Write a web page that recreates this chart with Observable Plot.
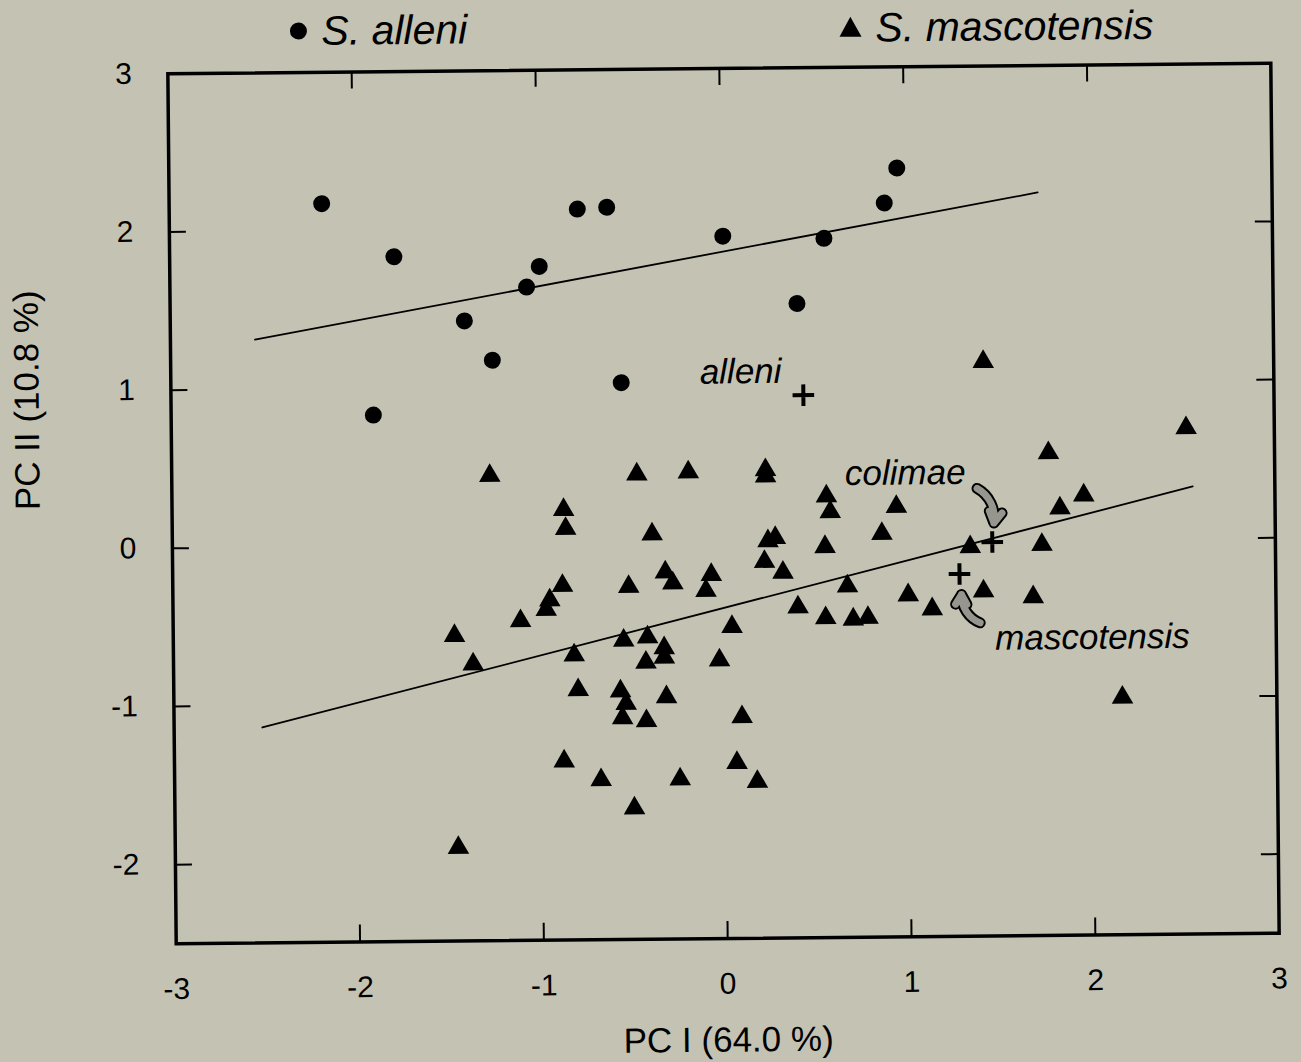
<!DOCTYPE html>
<html><head><meta charset="utf-8">
<script src="https://cdn.jsdelivr.net/npm/d3@7"></script>
<script src="https://cdn.jsdelivr.net/npm/@observablehq/plot@0.6"></script>
<style>
html,body{margin:0;padding:0;background:#c4c3b3;overflow:hidden}
#wrap{position:relative;width:1301px;height:1062px;transform:rotate(-0.55deg);transform-origin:723px 503px;font-family:"Liberation Sans",Arial,sans-serif}
#legend{position:relative;height:55px}
.lg{position:absolute;font-style:italic;font-size:41px;line-height:1;white-space:nowrap;color:#000}
.sym{position:absolute}
</style></head><body>
<div id="wrap"><div id="legend"></div><div id="chart"></div></div>
<script>
// ---- data ----
const xDomain = [-3, 3];
const yDomain = [-2.5, 3];
const xLabels = [-3, -2, -1, 0, 1, 2, 3];
const yLabels = [-2, -1, 0, 1, 2, 3];
const xTickVals = [-2, -1, 0, 1, 2];
const yTickVals = [-2, -1, 0, 1, 2];
const xTitle = "PC I (64.0 %)";
const yTitle = "PC II (10.8 %)";
const seriesNames = ["S. alleni", "S. mascotensis"];

const alleniX = [-2.17,-1.78,-1.90,-1.40,-1.25,-1.06,-0.99,-0.78,-0.62,-0.55,0.01,0.41,0.56,0.89,0.96];
const alleniY = [2.17,1.83,0.83,1.42,1.17,1.63,1.76,2.12,2.13,1.02,1.94,1.51,1.92,2.14,2.36];

const mascoX = [-1.27,-0.87,-0.86,-0.88,-0.95,-0.97,-1.11,-1.47,-1.37,-0.82,-0.80,-0.88,-1.46,-0.68,-0.47,-0.39,-0.52,-0.32,-0.28,-0.55,-0.42,-0.33,-0.33,-0.43,-0.57,-0.54,-0.56,-0.43,-0.32,-0.50,-0.25,-0.19,-0.10,-0.07,-0.03,0.04,0.09,0.06,0.17,0.23,0.23,0.22,0.24,0.28,0.32,0.40,0.56,0.58,0.55,0.55,0.67,0.70,0.78,0.86,0.94,1.00,1.13,1.34,1.42,1.41,1.68,1.73,1.77,1.83,1.96,2.16,2.52];
const mascoY = [0.44,0.22,0.10,-0.26,-0.35,-0.41,-0.48,-0.57,-0.75,-0.70,-0.92,-1.37,-1.91,-1.49,0.44,0.06,-0.27,-0.18,-0.25,-0.61,-0.59,-0.66,-0.72,-0.75,-0.93,-1.01,-1.10,-1.12,-0.97,-1.67,-1.49,0.45,-0.30,-0.20,-0.74,-0.53,-1.10,-1.39,-1.51,0.46,0.42,-0.12,0.01,0.03,-0.19,-0.41,0.29,0.19,-0.03,-0.48,-0.28,-0.49,-0.48,0.05,0.22,-0.34,-0.43,-0.04,1.13,-0.32,-0.36,-0.03,0.55,0.20,0.28,-1.00,0.70];

// group means (crosses)
const meanNames = ["alleni", "colimae", "mascotensis"];
const meanX = [0.44, 1.46, 1.28];
const meanY = [0.93, -0.01, -0.21];

// annotation labels
const labelText = ["alleni", "colimae", "mascotensis"];
const labelX = [0.10, 0.99, 2.00];
const labelY = [1.08, 0.43, -0.62];

// annotation arrows (tail -> head)
const arrowX1 = [1.38, 1.39];
const arrowY1 = [0.33, -0.52];
const arrowX2 = [1.47, 1.29];
const arrowY2 = [0.11, -0.34];

// regression lines (end points)
const upperLineX = [-2.54, 1.725];
const upperLineY = [1.315, 2.197];
const lowerLineX = [-2.52, 2.553];
const lowerLineY = [-1.138, 0.329];

// ---- build ----
const zip = (xs, ys) => xs.map((x, i) => ({x, y: ys[i]}));
const alleni = zip(alleniX, alleniY);
const masco = zip(mascoX, mascoY);
const means = zip(meanX, meanY);
const labels = labelText.map((t, i) => ({t, x: labelX[i], y: labelY[i]}));
const arrows = arrowX1.map((x1, i) => ({x1, y1: arrowY1[i], x2: arrowX2[i], y2: arrowY2[i]}));
const upper = zip(upperLineX, upperLineY);
const lower = zip(lowerLineX, lowerLineY);

// legend (HTML, above the chart)
const legend = document.getElementById("legend");
legend.innerHTML = `
<svg class="sym" style="left:293px;top:17px" width="20" height="20"><circle cx="10" cy="10" r="8.5" fill="#000"/></svg>
<div class="lg" style="left:326px;top:7px">${seriesNames[0]}</div>
<svg class="sym" style="left:843px;top:17px" width="24" height="24"><path d="M12,1 L23,21 L1,21 Z" fill="#000"/></svg>
<div class="lg" style="left:880px;top:9px">${seriesNames[1]}</div>`;

const W = 1301, H = 1007;
const mL = 171.5, mR = 26.5, mT = 13, mB = 124;
const fw = W - mL - mR, fh = H - mT - mB;
const tickLen = 17;

const chart = Plot.plot({
  width: W, height: H,
  marginLeft: mL, marginRight: mR, marginTop: mT, marginBottom: mB,
  x: {domain: xDomain},
  y: {domain: yDomain},
  style: {background: "transparent", fontFamily: "Liberation Sans, Arial, sans-serif", color: "black", overflow: "visible"},
  marks: [
    Plot.tickX(xTickVals, {x: d => d, insetTop: fh - tickLen, stroke: "black", strokeWidth: 2}),
    Plot.tickX(xTickVals, {x: d => d, insetBottom: fh - tickLen, stroke: "black", strokeWidth: 2}),
    Plot.tickY(yTickVals, {y: d => d, insetRight: fw - tickLen, stroke: "black", strokeWidth: 2}),
    Plot.tickY(yTickVals, {y: d => d, insetLeft: fw - tickLen, stroke: "black", strokeWidth: 2}),
    Plot.frame({stroke: "black", strokeWidth: 3.5}),
    Plot.axisX(xLabels, {anchor: "bottom", tickSize: 0, tickPadding: 34, fontSize: 30, tickFormat: d => String(d), label: null}),
    Plot.axisY(yLabels, {anchor: "left", tickSize: 0, tickPadding: 36, fontSize: 30, tickFormat: d => String(d), label: null}),
    Plot.text([xTitle], {text: d => d, frameAnchor: "bottom", dy: 102, fontSize: 35, lineAnchor: "middle"}),
    Plot.text([yTitle], {text: d => d, frameAnchor: "left", dx: -143.5, rotate: -90, fontSize: 35, lineAnchor: "middle"}),
    Plot.line(upper, {x: "x", y: "y", stroke: "black", strokeWidth: 1.8}),
    Plot.line(lower, {x: "x", y: "y", stroke: "black", strokeWidth: 1.8}),
    Plot.dot(alleni, {x: "x", y: "y", r: 8.5, fill: "black"}),
    Plot.dot(masco, {x: "x", y: "y", symbol: "triangle", r: 8, fill: "black"}),
    Plot.dot(means, {x: "x", y: "y", symbol: "plus", r: 7, stroke: "black", strokeWidth: 4}),
    Plot.arrow(arrows, {x1: "x1", y1: "y1", x2: "x2", y2: "y2", bend: 35, stroke: "black", strokeWidth: 11, headLength: 9}),
    Plot.arrow(arrows, {x1: "x1", y1: "y1", x2: "x2", y2: "y2", bend: 35, stroke: "#96968f", strokeWidth: 7, headLength: 9}),
    Plot.text(labels, {x: "x", y: "y", text: "t", fontSize: 35, fontStyle: "italic", lineAnchor: "middle"})
  ]
});
document.getElementById("chart").appendChild(chart);
</script></body></html>
